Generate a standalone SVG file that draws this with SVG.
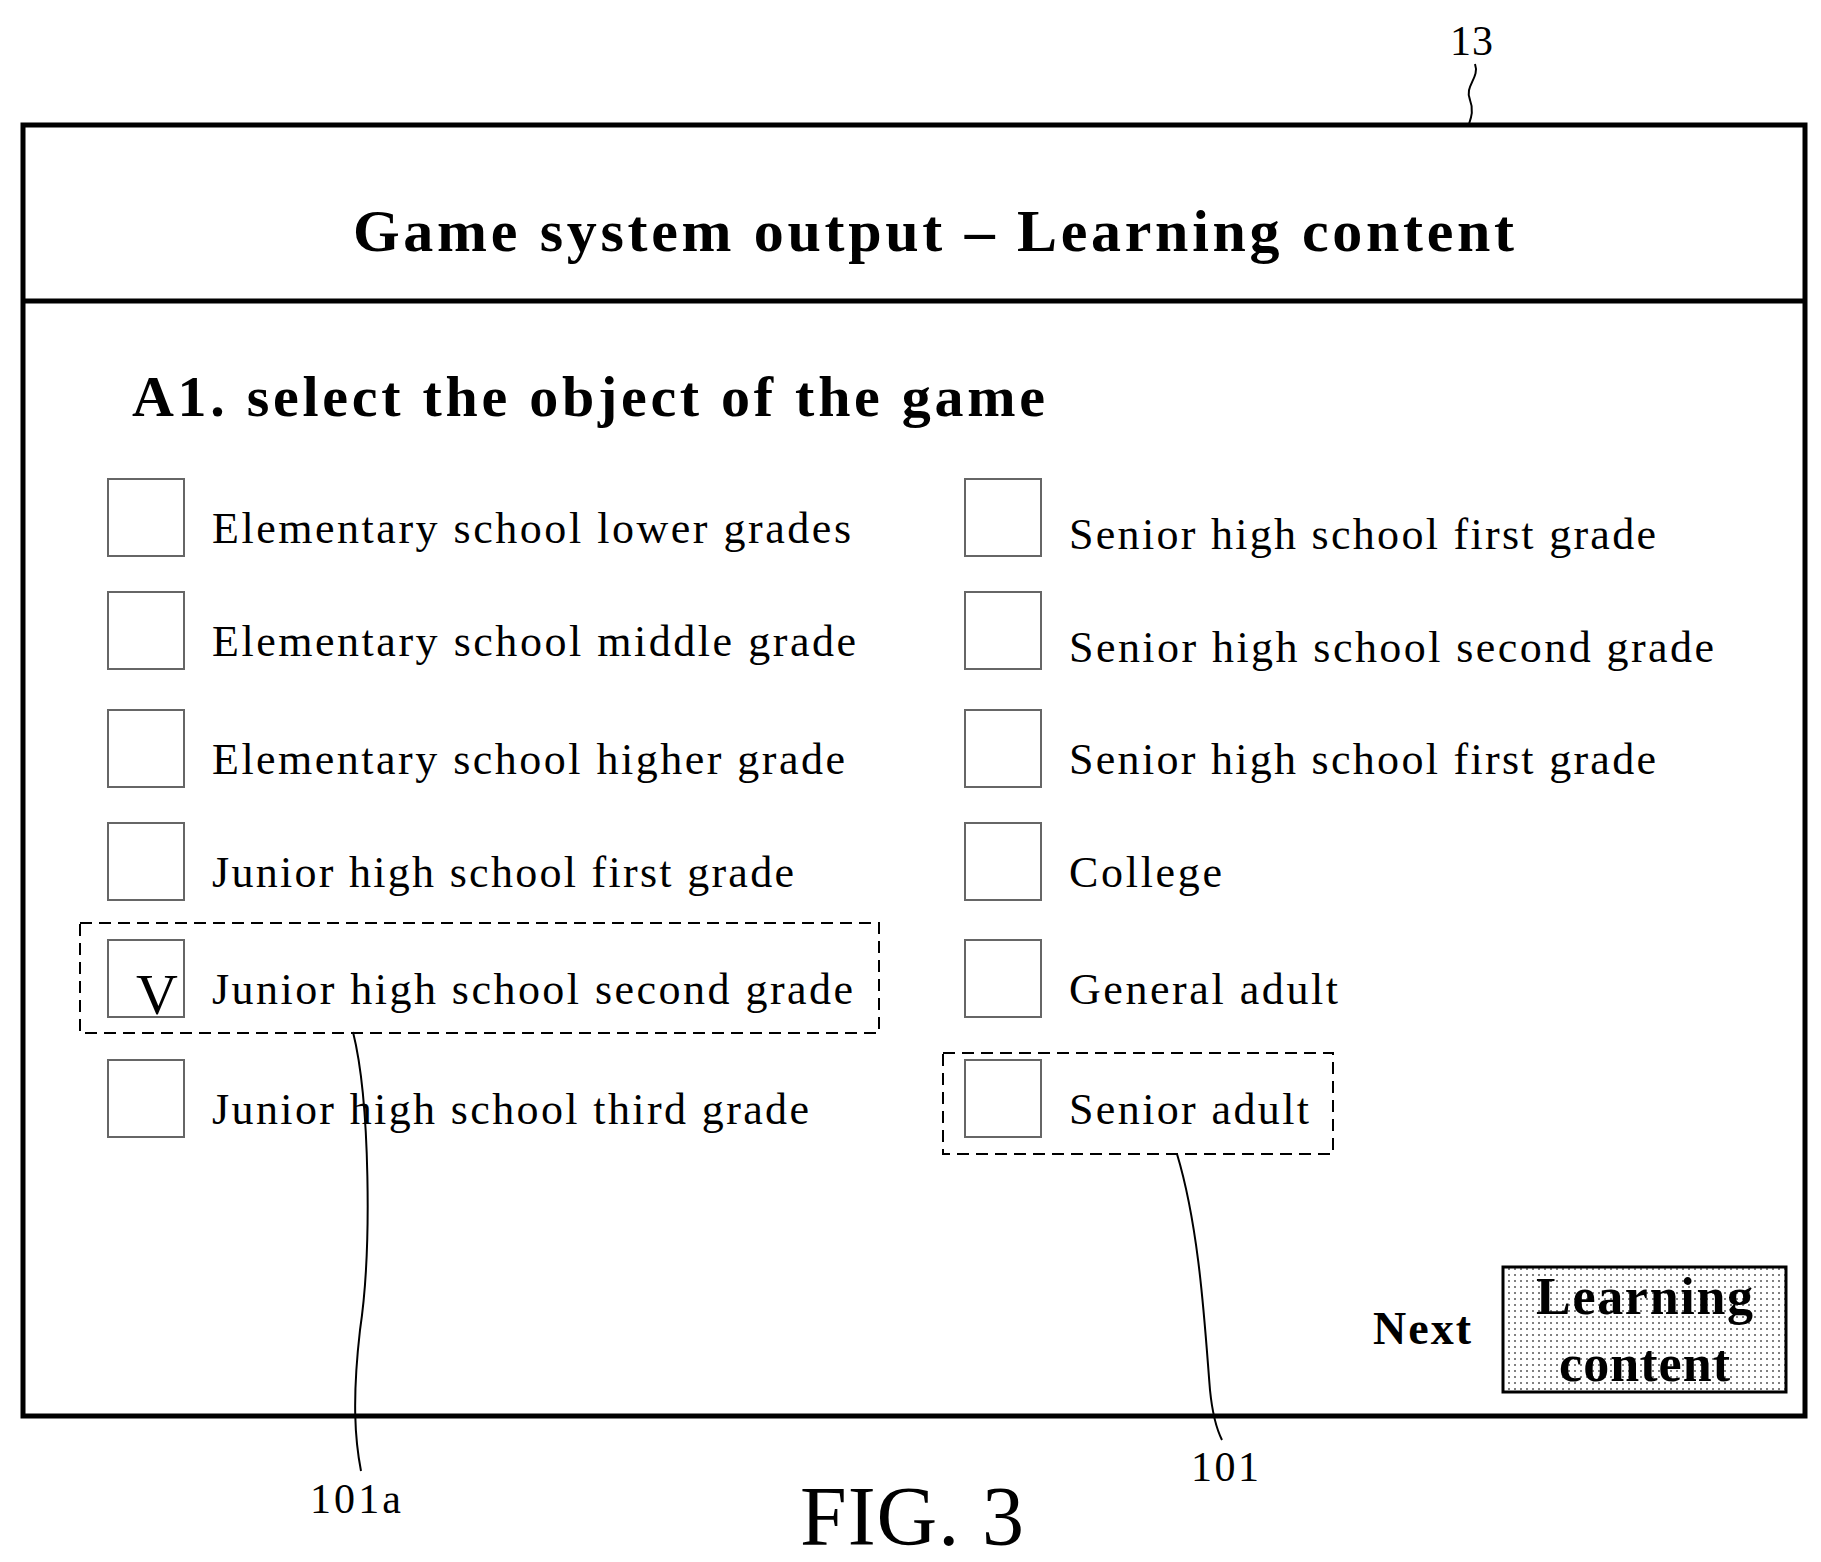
<svg xmlns="http://www.w3.org/2000/svg" width="1821" height="1562" viewBox="0 0 1821 1562">
<style>
text{font-family:"Liberation Serif","Times New Roman",serif;fill:#000}
.b{font-weight:bold}
.opt{font-size:44px}
.cb{fill:#fff;stroke:#666;stroke-width:2}
.dash{fill:none;stroke:#000;stroke-width:2;stroke-dasharray:12,7}
.lead{fill:none;stroke:#000;stroke-width:2}
.lbl{font-size:42px}
</style>
<defs>
<pattern id="dots" width="6" height="6" patternUnits="userSpaceOnUse"><rect width="6" height="6" fill="#fff"/><circle cx="3" cy="3" r="1" fill="#555"/></pattern>
</defs>
<rect width="1821" height="1562" fill="#fff"/>
<g id="screen">
<rect x="23" y="125" width="1782" height="1291" fill="none" stroke="#000" stroke-width="5"/>
<line x1="23" y1="301" x2="1805" y2="301" stroke="#000" stroke-width="5"/>
<text class="b" x="353" y="251" font-size="60" textLength="1161" lengthAdjust="spacing">Game system output  –  Learning content</text>
<text class="b" x="132" y="416" font-size="58" textLength="913" lengthAdjust="spacing">A1. select the object of the game</text>
</g>
<g id="left-options">
<rect class="cb" x="108" y="479" width="76" height="77"/><text class="opt" x="212" y="543" textLength="639" lengthAdjust="spacing">Elementary school lower grades</text>
<rect class="cb" x="108" y="592" width="76" height="77"/><text class="opt" x="212" y="656" textLength="644" lengthAdjust="spacing">Elementary school middle grade</text>
<rect class="cb" x="108" y="710" width="76" height="77"/><text class="opt" x="212" y="774" textLength="633" lengthAdjust="spacing">Elementary school higher grade</text>
<rect class="cb" x="108" y="823" width="76" height="77"/><text class="opt" x="212" y="887" textLength="582" lengthAdjust="spacing">Junior high school first grade</text>
<rect class="cb" x="108" y="940" width="76" height="77"/><text x="157" y="1014" font-size="58" text-anchor="middle">V</text><text class="opt" x="212" y="1004" textLength="641" lengthAdjust="spacing">Junior high school second grade</text>
<rect class="cb" x="108" y="1060" width="76" height="77"/><text class="opt" x="212" y="1124" textLength="597" lengthAdjust="spacing">Junior high school third grade</text>
</g>
<g id="right-options">
<rect class="cb" x="965" y="479" width="76" height="77"/><text class="opt" x="1069" y="549" textLength="587" lengthAdjust="spacing">Senior high school first grade</text>
<rect class="cb" x="965" y="592" width="76" height="77"/><text class="opt" x="1069" y="662" textLength="645" lengthAdjust="spacing">Senior high school second grade</text>
<rect class="cb" x="965" y="710" width="76" height="77"/><text class="opt" x="1069" y="774" textLength="587" lengthAdjust="spacing">Senior high school first grade</text>
<rect class="cb" x="965" y="823" width="76" height="77"/><text class="opt" x="1069" y="887" textLength="153" lengthAdjust="spacing">College</text>
<rect class="cb" x="965" y="940" width="76" height="77"/><text class="opt" x="1069" y="1004" textLength="269" lengthAdjust="spacing">General adult</text>
<rect class="cb" x="965" y="1060" width="76" height="77"/><text class="opt" x="1069" y="1124" textLength="240" lengthAdjust="spacing">Senior adult</text>
</g>
<g id="next">
<text class="b" x="1373" y="1344" font-size="46" textLength="98" lengthAdjust="spacing">Next</text>
<rect x="1503" y="1267" width="283" height="125" fill="url(#dots)" stroke="#000" stroke-width="3"/>
<text class="b" x="1536" y="1314" font-size="52" textLength="217" lengthAdjust="spacing">Learning</text>
<text class="b" x="1559" y="1381" font-size="52" textLength="171" lengthAdjust="spacing">content</text>
</g>
<g id="connectors">
<rect class="dash" x="80" y="923" width="799" height="110"/>
<rect class="dash" x="943" y="1053" width="390" height="101"/>
<path class="lead" d="M353 1032 C370 1100 372 1250 360 1330 C352 1400 355 1440 361 1471"/>
<path class="lead" d="M1177 1154 C1200 1230 1205 1330 1210 1390 C1213 1420 1218 1432 1222 1440"/>
<path class="lead" d="M1475 64 C1480 78 1464 86 1470 100 C1474 110 1471 118 1469 124"/>
</g>
<g id="labels">
<text class="lbl" x="1450" y="55" textLength="43" lengthAdjust="spacing">13</text>
<text class="lbl" x="310" y="1513" textLength="91" lengthAdjust="spacing">101a</text>
<text class="lbl" x="1191" y="1481" textLength="68" lengthAdjust="spacing">101</text>
<text x="800" y="1545" font-size="84" textLength="224" lengthAdjust="spacing">FIG. 3</text>
</g>
</svg>
